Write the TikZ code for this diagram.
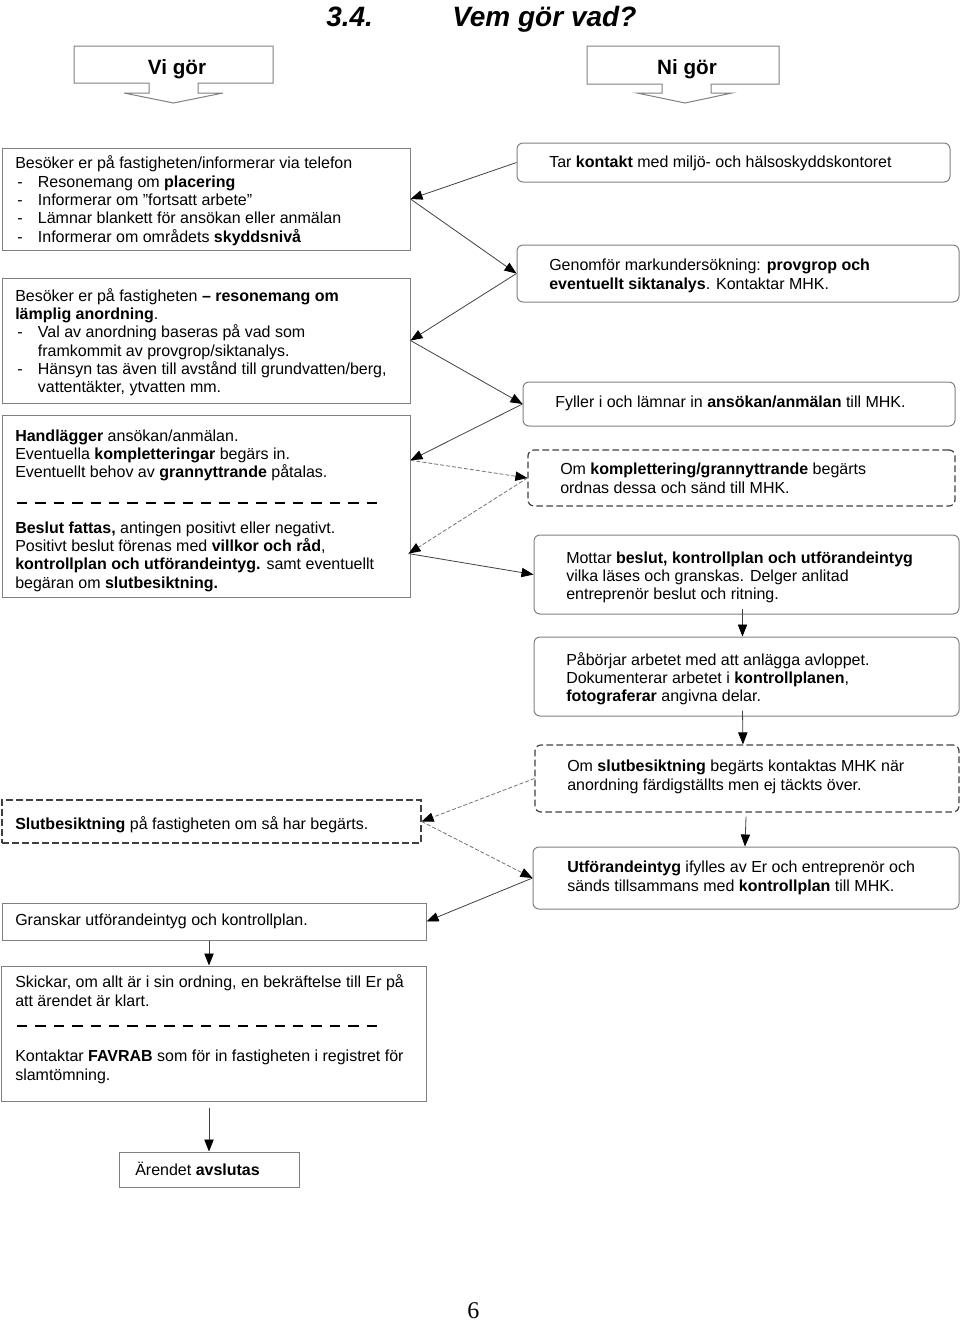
\documentclass[tikz,border=0pt]{standalone}
\usepackage{fontspec}
\setmainfont{Liberation Sans}
\newfontfamily\serifpn{Liberation Serif}
\usetikzlibrary{arrows.meta,fit,calc}
\newcommand{\bl}{\makebox[17pt][l]{\hspace{1.5pt}-}}
\newcommand{\ind}{\hspace*{17pt}}
\begin{document}
\begin{tikzpicture}[x=0.75pt,y=-0.75pt,
  box/.style={draw=black!50, line width=0.75pt, inner sep=0pt},
  rbox/.style={box, rounded corners=4.5pt},
  dbox/.style={draw=black!75, line width=0.9pt, dash pattern=on 5pt off 2.5pt, inner sep=0pt},
  drbox/.style={dbox, rounded corners=4.5pt},
  hbox/.style={draw=black!50, line width=0.75pt},
  txt/.style={anchor=base west, inner sep=0pt, align=left, font=\fontsize{12}{13.75}\selectfont},
  htxt/.style={anchor=base, inner sep=0pt, font=\fontsize{15.5}{18}\selectfont\bfseries},
  ttxt/.style={anchor=base west, inner sep=0pt, font=\fontsize{21}{25}\selectfont\bfseries\itshape},
  conn/.style={draw=black!75, line width=0.6pt, -{Triangle[length=9pt,width=7pt,color=black]}},
  dconn/.style={conn, draw=black!55, dash pattern=on 3pt off 1.5pt},
  sepline/.style={line width=2pt, dash pattern=on 7.8pt off 6pt}
]
\useasboundingbox (0,0) rectangle (960,1322);

% title
\node[ttxt] (T1) at (326,26) {3.4.};
\node[ttxt] (T2) at (452,26) {Vem gör vad?};

% header callouts
\draw[hbox] (74,46) -- (273,46) -- (273,83) -- (198,83) -- (198,93) -- (223,93) -- (173.5,103) -- (124,93) -- (149,93) -- (149,83) -- (74,83) -- cycle;
\node[htxt] (H1) at (177,74) {Vi gör};
\draw[hbox] (587,46) -- (779,46) -- (779,84) -- (711,84) -- (711,93) -- (732,93) -- (685,103) -- (637,93) -- (662,93) -- (662,84) -- (587,84) -- cycle;
\node[htxt] (H2) at (687,74) {Ni gör};

% left boxes (text nodes anchored at the baseline of their last line)
\node[box, fit={(2,148) (410,250)}] (L1) {};
\node[txt] (L1t) at (15,242.3) {Besöker er på fastigheten/informerar via telefon\\
\bl Resonemang om \textbf{placering}\\
\bl Informerar om ”fortsatt arbete”\\
\bl Lämnar blankett för ansökan eller anmälan\\
\bl Informerar om områdets \textbf{skyddsnivå}};

\node[box, fit={(2,278) (410,403)}] (L2) {};
\node[txt] (L2t) at (15,392.7) {Besöker er på fastigheten \textbf{– resonemang om}\\
\textbf{lämplig anordning}.\\
\bl Val av anordning baseras på vad som\\
\ind framkommit av provgrop/siktanalys.\\
\bl Hänsyn tas även till avstånd till grundvatten/berg,\\
\ind vattentäkter, ytvatten mm.};

\node[box, fit={(2,415) (410,597)}] (L3) {};
\node[txt] (L3t) at (15,477.7) {\textbf{Handlägger} ansökan/anmälan.\\
Eventuella \textbf{kompletteringar} begärs in.\\
Eventuellt behov av \textbf{grannyttrande} påtalas.};
\draw[sepline] (17,503) -- (377,503);
\node[txt] (L3u) at (15,588) {\textbf{Beslut fattas,} antingen positivt eller negativt.\\
Positivt beslut förenas med \textbf{villkor och råd},\\
\textbf{kontrollplan och utförandeintyg.} samt eventuellt\\
begäran om \textbf{slutbesiktning.}};

\node[dbox, fit={(2,800) (421,843)}] (L4) {};
\node[txt] (L4t) at (15,829) {\textbf{Slutbesiktning} på fastigheten om så har begärts.};

\node[box, fit={(2,903) (426,940)}] (L5) {};
\node[txt] (L5t) at (15,925) {Granskar utförandeintyg och kontrollplan.};

\node[box, fit={(1,966) (426,1101)}] (L6) {};
\node[txt] (L6t) at (15,1006.3) {Skickar, om allt är i sin ordning, en bekräftelse till Er på\\
att ärendet är klart.};
\draw[sepline] (17,1026) -- (377,1026);
\node[txt] (L6u) at (15,1080.3) {Kontaktar \textbf{FAVRAB} som för in fastigheten i registret för\\
slamtömning.};

\node[box, fit={(119,1152) (299,1187)}] (L7) {};
\node[txt] (L7t) at (135,1175) {Ärendet \textbf{avslutas}};

% right boxes
\node[rbox, fit={(517,143) (950,182)}] (R1) {};
\node[txt] (R1t) at (549,167) {Tar \textbf{kontakt} med miljö- och hälsoskyddskontoret};

\node[rbox, fit={(517,245) (959,302)}] (R2) {};
\node[txt] (R2t) at (549,289.3) {Genomför markundersökning: \textbf{provgrop och}\\
\textbf{eventuellt siktanalys}. Kontaktar MHK.};

\node[rbox, fit={(523,382) (955,426)}] (R3) {};
\node[txt] (R3t) at (555,407) {Fyller i och lämnar in \textbf{ansökan/anmälan} till MHK.};

\node[drbox, fit={(528,450) (955,506)}] (R4) {};
\node[txt] (R4t) at (560,493.3) {Om \textbf{komplettering/grannyttrande} begärts\\
ordnas dessa och sänd till MHK.};

\node[rbox, fit={(534,535) (959,614)}] (R5) {};
\node[txt] (R5t) at (566,599.7) {Mottar \textbf{beslut, kontrollplan och utförandeintyg}\\
vilka läses och granskas. Delger anlitad\\
entreprenör beslut och ritning.};

\node[rbox, fit={(534,637) (959,716)}] (R6) {};
\node[txt] (R6t) at (566,701.7) {Påbörjar arbetet med att anlägga avloppet.\\
Dokumenterar arbetet i \textbf{kontrollplanen},\\
\textbf{fotograferar} angivna delar.};

\node[drbox, fit={(535,745) (959,812)}] (R7) {};
\node[txt] (R7t) at (567,790.3) {Om \textbf{slutbesiktning} begärts kontaktas MHK när\\
anordning färdigställts men ej täckts över.};

\node[rbox, fit={(533,847) (959,909)}] (R8) {};
\node[txt] (R8t) at (567,891.3) {\textbf{Utförandeintyg} ifylles av Er och entreprenör och\\
sänds tillsammans med \textbf{kontrollplan} till MHK.};

% page number
\node[anchor=base west, inner sep=0pt, font=\serifpn\fontsize{18}{20}\selectfont] (pg) at (467,1318) {6};

% connectors
\coordinate (L3a) at ($(L3.north east)!0.25!(L3.south east)$);
\coordinate (L3b) at ($(L3.north east)!0.76!(L3.south east)+(-2,0)$);
\draw[conn] (R1.west) -- (L1.east);
\draw[conn] (L1.east) -- (R2.west);
\draw[conn] (R2.west) -- (L2.east);
\draw[conn] (L2.east) -- (R3.west);
\draw[conn] (R3.west) -- (L3a);
\draw[dconn] (L3a) -- (R4.west);
\draw[dconn] (R4.west) -- (L3b);
\draw[conn] (L3b) -- (R5.west);
\draw[conn] ($(R5.south)+(-4,-6)$) -- ($(R6.north)+(-4,0)$);
\draw[conn] ($(R6.south)+(-4,-6)$) -- ($(R7.north)+(-4,0)$);
\draw[dconn] (R7.west) -- (L4.east);
\draw[conn] ($(R7.south)+(-1,4)$) -- ($(R8.north)+(-1,0)$);
\draw[dconn] (L4.east) -- (R8.west);
\draw[conn] (R8.west) -- (L5.east);
\draw[conn] ($(L5.south)+(-5,0)$) -- ($(L6.north)+(-4.5,0)$);
\draw[conn] ($(L7.north)+(0,-44)$) -- (L7.north);
\end{tikzpicture}
\end{document}
